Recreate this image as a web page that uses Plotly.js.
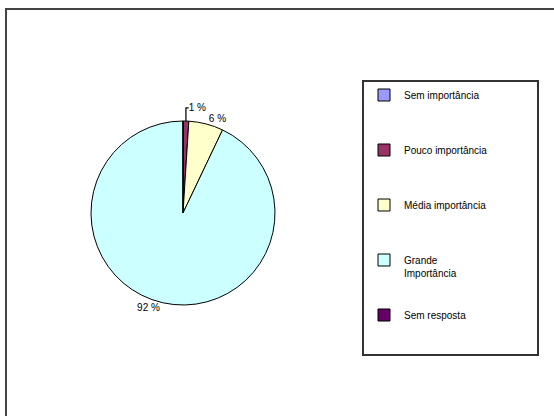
<!DOCTYPE html>
<html>
<head>
<meta charset="utf-8">
<script src="https://cdn.plot.ly/plotly-3.0.1.min.js"></script>
<style>
html,body{margin:0;padding:0;background:#fff;}
#chart{width:554px;height:416px;}
</style>
</head>
<body>
<div id="chart"></div>
<script>
// Data
var categories = ["Sem importância", "Pouco importância", "Média importância", "Grande Importância", "Sem resposta"];
var legendLabels = ["Sem importância", "Pouco importância", "Média importância", "Grande<br>Importância", "Sem resposta"];
var percentValues = [0, 1, 6, 92, 0];
var sliceColors = ["#9999FF", "#993366", "#FFFFCC", "#CCFFFF", "#660066"];

// pad legend entries with blank lines to reproduce the wide spacing
var widePad = new Array(47).join("\u00A0");
var padded = legendLabels.map(function (l, i) {
  var lines = l.split("<br>").length;
  var target = (i === legendLabels.length - 1) ? 3 : 4;
  var s = l;
  for (var k = lines; k < target; k++) s += "<br>" + (i === 0 && k === lines ? widePad : "\u00A0");
  return s;
});
// zero slices get no outside label
var templates = percentValues.map(function (v) { return v > 0 ? "%{value} %" : ""; });

var trace = {
  type: "pie",
  labels: padded,
  values: percentValues,
  customdata: categories,
  sort: false,
  direction: "clockwise",
  rotation: 0,
  textposition: "outside",
  texttemplate: templates,
  textfont: {family: "Liberation Sans, Arial, sans-serif", size: 10, color: "#000"},
  marker: {colors: sliceColors, line: {color: "#000", width: 1}},
  domain: {x: [91/554, 275/554], y: [111/416, 295/416]},
  automargin: false,
  hoverinfo: "none"
};

var layout = {
  width: 554,
  height: 416,
  margin: {l: 0, r: 0, t: 0, b: 0},
  paper_bgcolor: "#fff",
  showlegend: true,
  legend: {
    x: 362/554, y: (416-80)/416, xanchor: "left", yanchor: "top",
    bgcolor: "#fff", bordercolor: "#333", borderwidth: 2,
    valign: "top",
    font: {family: "Liberation Sans, Arial, sans-serif", size: 10, color: "#000"},
    itemwidth: 30
  },
  shapes: [{
    type: "rect", xref: "paper", yref: "paper",
    x0: 6/554, x1: 1.05, y0: -0.05, y1: (416-9)/416,
    line: {color: "#444", width: 2}
  }]
};

Plotly.newPlot("chart", [trace], layout, {displayModeBar: false, staticPlot: true});
</script>
</body>
</html>
